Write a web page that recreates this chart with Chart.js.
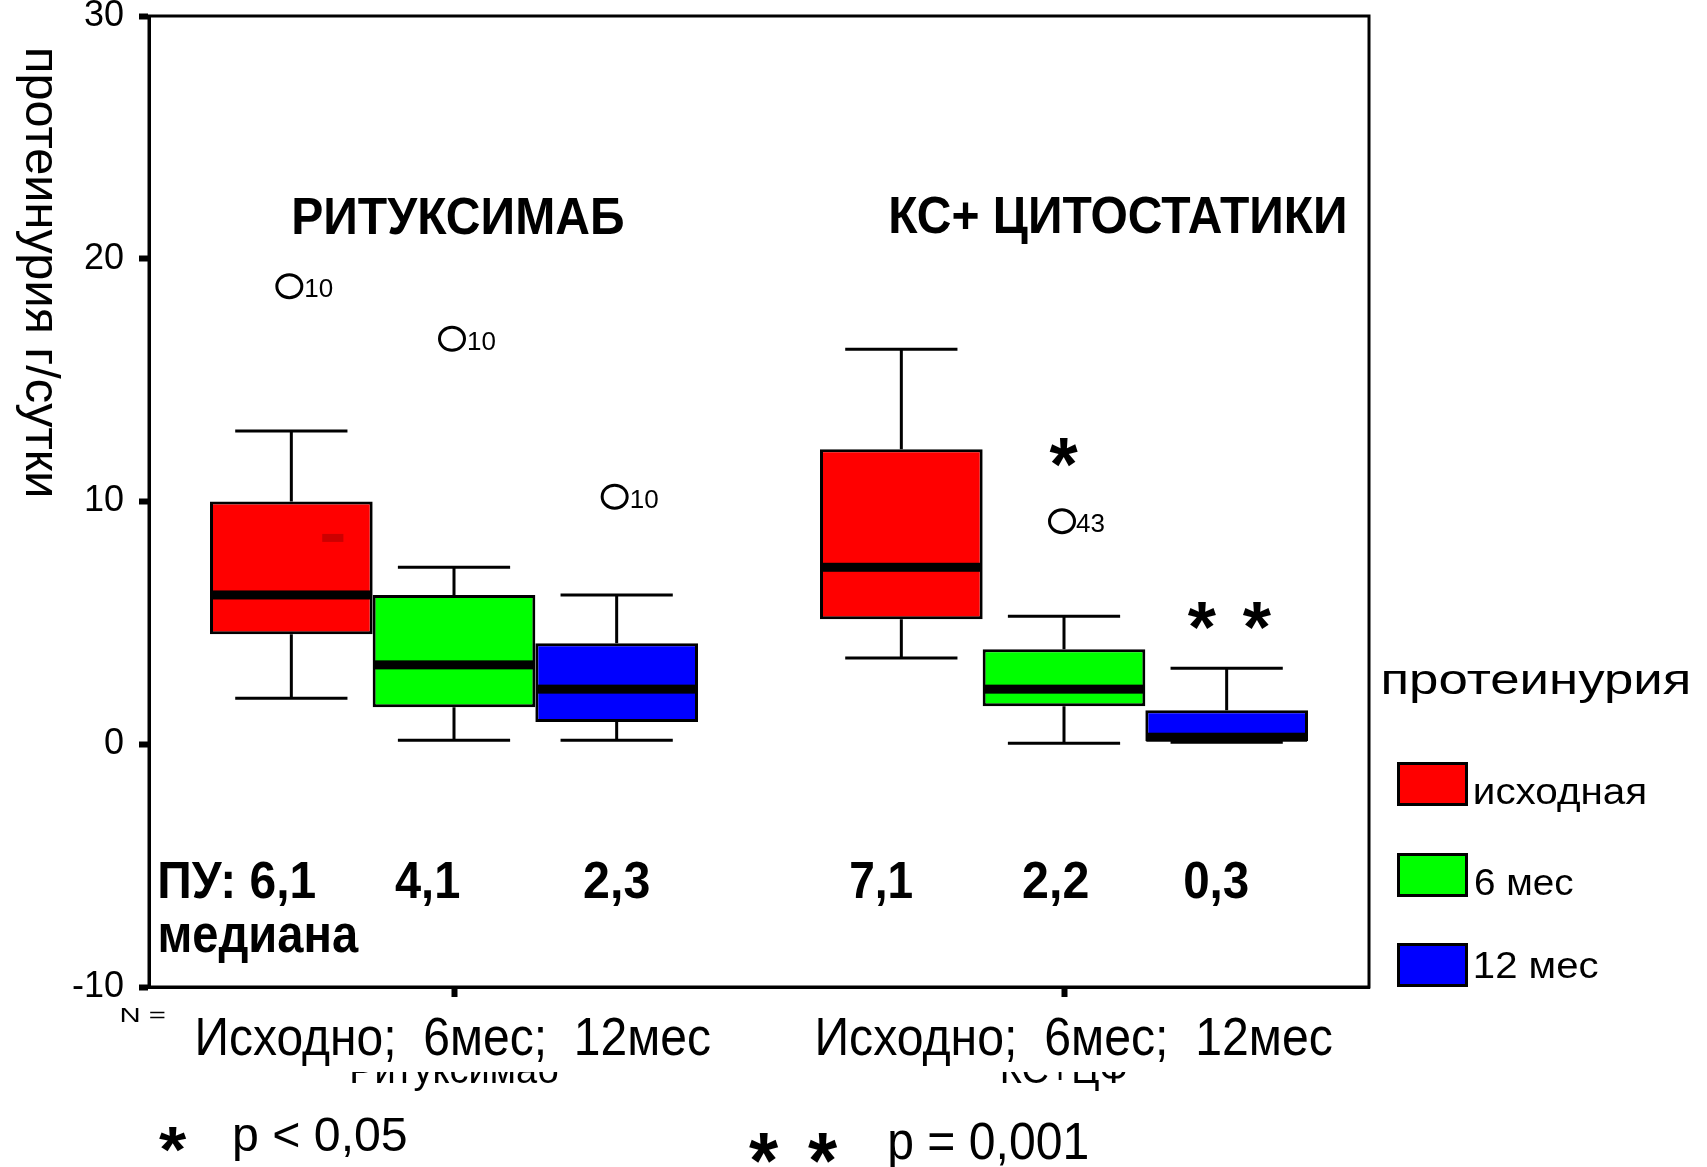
<!DOCTYPE html>
<html>
<head>
<meta charset="utf-8">
<script src="https://cdn.jsdelivr.net/npm/chart.js@4.4.1/dist/chart.umd.min.js"></script>
<style>
  html, body { margin: 0; padding: 0; background: #fff; }
  #chart { display: block; }
</style>
</head>
<body>
<canvas id="chart" width="1707" height="1167"></canvas>
<script>
// ---------------- DATA ----------------
const groups = ["Ритуксимаб", "КС+ЦФ"];
const seriesNames = ["исходная", "6 мес", "12 мес"];
const seriesColors = ["#ff0000", "#00ff00", "#0000ff"];
const yTicks = [-10, 0, 10, 20, 30];

// one row per series (исходная, 6 мес, 12 мес), one value per group
const whiskerLow  = [[1.9, 3.55], [0.16, 0.04], [0.16, 0.08]];
const q1          = [[4.53, 5.15], [1.52, 1.57], [0.92, 0.12]];
const medians     = [[6.15, 7.29], [3.27, 2.27], [2.27, 0.29]];
const q3          = [[10.0, 12.15], [6.15, 3.91], [4.16, 1.4]];
const whiskerHigh = [[12.9, 16.27], [7.29, 5.27], [6.15, 3.13]];
const outlierValues = [[18.87, null], [16.7, 9.19], [10.2, null]];
const outlierIds    = [["10", ""], ["10", "43"], ["10", ""]];
const meanMarks     = [[8.5, null], [null, null], [null, null]];

// significance stars above boxes
const sigSeries = [1, 2];
const sigGroups = [1, 1];
const sigValues = [12.05, 5.3];
const sigStars  = [1, 2];

const medianLabels = ["ПУ: 6,1", "4,1", "2,3", "7,1", "2,2", "0,3"];

const FONT = '"Liberation Sans", Arial, sans-serif';
Chart.defaults.font.family = FONT;

// ---------------- TEXT HELPERS ----------------
// draw text so its ink spans left..right, sitting on baseline
function inkText(ctx, text, left, right, baseline, size, bold) {
    ctx.save();
    ctx.font = (bold ? "bold " : "") + size + "px " + FONT;
    ctx.textAlign = "left";
    ctx.textBaseline = "alphabetic";
    const m = ctx.measureText(text);
    const w = m.actualBoundingBoxLeft + m.actualBoundingBoxRight;
    ctx.translate(left, baseline);
    ctx.scale((right - left) / w, 1);
    ctx.fillStyle = "#000";
    ctx.fillText(text, m.actualBoundingBoxLeft, 0);
    ctx.restore();
}

// draw text so its ink fills a box
function inkBox(ctx, text, x0, y0, x1, y1, size, bold) {
    ctx.save();
    ctx.font = (bold ? "bold " : "") + size + "px " + FONT;
    ctx.textAlign = "left";
    ctx.textBaseline = "alphabetic";
    const m = ctx.measureText(text);
    const w = m.actualBoundingBoxLeft + m.actualBoundingBoxRight;
    const h = m.actualBoundingBoxAscent + m.actualBoundingBoxDescent;
    ctx.translate(x0, y0);
    ctx.scale((x1 - x0) / w, (y1 - y0) / h);
    ctx.fillStyle = "#000";
    ctx.fillText(text, m.actualBoundingBoxLeft, m.actualBoundingBoxAscent);
    ctx.restore();
}

// ---------------- BOXPLOT PLUGIN ----------------
const boxplotPlugin = {
    id: "boxplot",
    afterDatasetsDraw(chart) {
        const ctx = chart.ctx;
        const y = chart.scales.y;

        chart.data.datasets.forEach((ds, si) => {
            const meta = chart.getDatasetMeta(si);
            meta.data.forEach((bar, gi) => {
                const { x, width } = bar.getProps(["x", "width"], true);
                const left = x - width / 2;
                const cap = width * 0.69;

                ctx.save();
                ctx.strokeStyle = "#000";
                ctx.lineWidth = 3;

                // whiskers
                const yHi = y.getPixelForValue(whiskerHigh[si][gi]);
                const yQ3 = y.getPixelForValue(q3[si][gi]);
                const yLo = y.getPixelForValue(whiskerLow[si][gi]);
                const yQ1 = y.getPixelForValue(q1[si][gi]);
                ctx.beginPath();
                ctx.moveTo(x, yQ3); ctx.lineTo(x, yHi);
                ctx.moveTo(x - cap / 2, yHi); ctx.lineTo(x + cap / 2, yHi);
                ctx.moveTo(x, yQ1); ctx.lineTo(x, yLo);
                ctx.moveTo(x - cap / 2, yLo); ctx.lineTo(x + cap / 2, yLo);
                ctx.stroke();

                // median
                const yMed = y.getPixelForValue(medians[si][gi]);
                ctx.fillStyle = "#000";
                ctx.fillRect(left + 1, yMed - 4.5, width - 2, 9);

                // odd little mark inside the first box
                if (meanMarks[si][gi] !== null) {
                    const ym = y.getPixelForValue(meanMarks[si][gi]);
                    ctx.fillStyle = "#cc0000";
                    ctx.fillRect(left + width * 0.69, ym - 4, width * 0.13, 8);
                }

                // outliers
                if (outlierValues[si][gi] !== null) {
                    const yo = y.getPixelForValue(outlierValues[si][gi]);
                    ctx.beginPath();
                    ctx.ellipse(x - 2, yo, 12.5, 11.5, 0, 0, Math.PI * 2);
                    ctx.stroke();
                    const id = outlierIds[si][gi];
                    const lx = id === "43" ? x + 12 : x + 13;
                    ctx.font = "26px " + FONT;
                    ctx.fillStyle = "#000";
                    ctx.textAlign = "left";
                    ctx.textBaseline = "alphabetic";
                    ctx.fillText(id, lx, yo + 11);
                }
                ctx.restore();
            });
        });

        // significance stars
        sigSeries.forEach((si, k) => {
            const bar = chart.getDatasetMeta(si).data[sigGroups[k]];
            const cx = bar.x;
            const cy = y.getPixelForValue(sigValues[k]);
            if (sigStars[k] === 1) {
                inkBox(ctx, "*", cx - 14.5, cy - 14.5, cx + 14.5, cy + 14.5, 70, true);
            } else {
                inkBox(ctx, "*", cx - 39, cy - 14, cx - 10, cy + 14, 70, true);
                inkBox(ctx, "*", cx + 16, cy - 14, cx + 45, cy + 14, 70, true);
            }
        });
    },

    afterDraw(chart) {
        const ctx = chart.ctx;
        const a = chart.chartArea;

        // frame
        ctx.save();
        ctx.strokeStyle = "#000";
        ctx.lineWidth = 3;
        ctx.strokeRect(a.left, a.top, a.right - a.left, a.bottom - a.top);
        ctx.restore();

        // group titles
        inkText(ctx, "РИТУКСИМАБ", 294, 623, 234, 51, true);
        inkText(ctx, "КС+ ЦИТОСТАТИКИ", 891, 1345, 233, 51, true);

        // median labels
        const medPos = [[160, 315], [395, 459], [584, 649], [851, 912], [1023, 1088], [1185, 1248]];
        medianLabels.forEach((t, i) => inkText(ctx, t, medPos[i][0], medPos[i][1], 898, 51, true));
        inkText(ctx, "медиана", 160, 359, 952, 54, true);

        // y axis title, rotated to read downwards
        ctx.save();
        ctx.translate(26, 50);
        ctx.rotate(Math.PI / 2);
        inkText(ctx, "протеинурия г/сутки", 0, 445, 0, 49, false);
        ctx.restore();

        // labels over the category axis
        ctx.save();
        ctx.fillStyle = "#fff";
        ctx.fillRect(190, 1004, 530, 68);
        ctx.fillRect(810, 1004, 530, 68);
        ctx.restore();
        inkText(ctx, "N =", 121, 165, 1022, 20, false);
        inkText(ctx, "Исходно;  6мес;  12мес", 198, 710, 1055, 54, false);
        inkText(ctx, "Исходно;  6мес;  12мес", 818, 1332, 1055, 54, false);

        // p-value notes
        inkBox(ctx, "*", 159, 1127, 187, 1152, 70, true);
        inkText(ctx, "p < 0,05", 235, 406, 1151, 48, false);
        inkBox(ctx, "*", 749, 1132, 779, 1163, 70, true);
        inkBox(ctx, "*", 808, 1132, 838, 1163, 70, true);
        inkText(ctx, "p = 0,001", 890, 1087, 1159, 51, false);

        // legend
        inkText(ctx, "протеинурия", 1383, 1688, 694, 42, false);
        const boxTops = [762, 853, 943];
        const labelRight = [1645, 1573, 1598];
        const labelBase = [804, 895, 978];
        chart.data.datasets.forEach((ds, i) => {
            ctx.save();
            ctx.fillStyle = ds.backgroundColor;
            ctx.fillRect(1397, boxTops[i], 71, 44);
            ctx.strokeStyle = "#000";
            ctx.lineWidth = 3;
            ctx.strokeRect(1398.5, boxTops[i] + 1.5, 68, 41);
            ctx.restore();
            inkText(ctx, ds.label, 1475, labelRight[i], labelBase[i], 37, false);
        });
    }
};

// ---------------- CHART ----------------
const datasets = seriesNames.map((name, si) => ({
    label: name,
    data: groups.map((g, gi) => [q1[si][gi], q3[si][gi]]),
    backgroundColor: seriesColors[si],
    borderColor: "#000",
    borderWidth: 3,
    borderSkipped: false,
    categoryPercentage: 0.8,
    barPercentage: 1.0
}));

new Chart(document.getElementById("chart"), {
    type: "bar",
    data: { labels: groups, datasets: datasets },
    options: {
        responsive: false,
        animation: false,
        layout: { padding: { top: 16, right: 338, left: 0, bottom: 0 } },
        plugins: {
            legend: { display: false },
            tooltip: { enabled: false }
        },
        scales: {
            x: {
                grid: {
                    display: true, drawOnChartArea: false, offset: false,
                    tickLength: 10, tickWidth: 6, tickColor: "#000"
                },
                border: { display: true, color: "#000", width: 3 },
                ticks: { color: "#000", font: { size: 38 }, padding: 53, maxRotation: 0 },
                afterFit: s => {
                    s.height = 180;
                    s.paddingLeft = 0; s.paddingRight = 0;
                }
            },
            y: {
                min: -10,
                max: 30,
                afterBuildTicks: s => { s.ticks = yTicks.map(v => ({ value: v })); },
                grid: {
                    display: true, drawOnChartArea: false,
                    tickLength: 10, tickWidth: 6, tickColor: "#000"
                },
                border: { display: true, color: "#000", width: 3 },
                ticks: { color: "#000", font: { size: 36 }, padding: 15 },
                afterFit: s => {
                    s.width = 149;
                    s.paddingTop = 0; s.paddingBottom = 0;
                }
            }
        }
    },
    plugins: [boxplotPlugin]
});
</script>
</body>
</html>
